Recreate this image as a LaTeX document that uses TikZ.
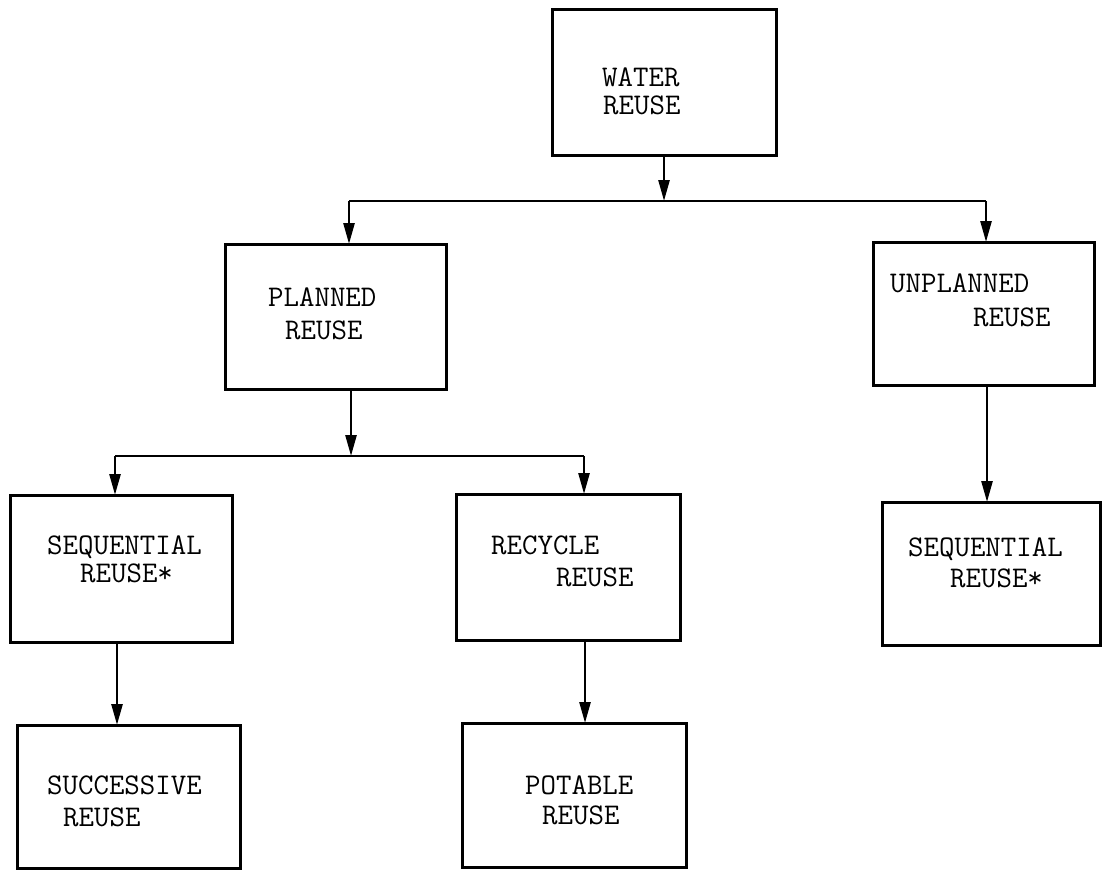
\documentclass[tikz,border=0pt]{standalone}
\usepackage{fontspec}
\usetikzlibrary{arrows.meta}
\tikzset{
  box/.style={draw, line width=3pt, inner sep=0pt, outer sep=0pt, fill=none},
  conn/.style={line width=2.6pt},
  arr/.style={line width=2.6pt, -{Triangle[length=21pt,width=11pt]}},
  lbl/.style={anchor=base west, inner sep=0pt, font=\ttfamily\fontsize{30}{32}\selectfont}
}
\begin{document}
\begin{tikzpicture}[x=1pt,y=-1pt]
\useasboundingbox (0,0) rectangle (1105,871);

% boxes
\node[box, minimum width=224pt, minimum height=146pt] (water)     at (664,82)    {};
\node[box, minimum width=221pt, minimum height=145pt] (planned)   at (335.5,316.5) {};
\node[box, minimum width=221pt, minimum height=143pt] (unplanned) at (983.5,313.5) {};
\node[box, minimum width=222pt, minimum height=147pt] (seqL)      at (121,568.5) {};
\node[box, minimum width=224pt, minimum height=146pt] (recycle)   at (568,567)   {};
\node[box, minimum width=218pt, minimum height=143pt] (seqR)      at (991,573.5) {};
\node[box, minimum width=223pt, minimum height=143pt] (succ)      at (128.5,796.5) {};
\node[box, minimum width=224pt, minimum height=144pt] (potable)   at (574,795)   {};

% texts
\node[lbl] (t1a) at (602,86)  {WATER};
\node[lbl] (t1b) at (603,114) {REUSE};
\node[lbl] (t2a) at (268,306) {PLANNED};
\node[lbl] (t2b) at (285,339) {REUSE};
\node[lbl] (t3a) at (890,292) {UNPLANNED};
\node[lbl] (t3b) at (973,326) {REUSE};
\node[lbl] (t4a) at (47,554)  {SEQUENTIAL};
\node[lbl] (t4b) at (80,582)  {REUSE*};
\node[lbl] (t5a) at (491,554) {RECYCLE};
\node[lbl] (t5b) at (556,586) {REUSE};
\node[lbl] (t6a) at (908,556) {SEQUENTIAL};
\node[lbl] (t6b) at (950,587) {REUSE*};
\node[lbl] (t7a) at (47,794)  {SUCCESSIVE};
\node[lbl] (t7b) at (63,826)  {REUSE};
\node[lbl] (t8a) at (525,794) {POTABLE};
\node[lbl] (t8b) at (542,824) {REUSE};

% junction coordinates
\coordinate (j1)  at (664,201);
\coordinate (j1L) at (349,201);
\coordinate (j1R) at (986,201);
\coordinate (j2)  at (351,456);
\coordinate (j2L) at (115,456);
\coordinate (j2R) at (584,456);
\coordinate (c3)  at (987,0);
\coordinate (c4)  at (117,0);
\coordinate (c5)  at (585,0);

% connectors
\draw[arr] (water.south) -- (j1);
\draw[conn] (j1L) -- (j1R);
\draw[arr] (j1L) -- (j1L |- planned.north);
\draw[arr] (j1R) -- (j1R |- unplanned.north);
\draw[arr] (c3 |- unplanned.south) -- (c3 |- seqR.north);

\draw[arr] (j2 |- planned.south) -- (j2);
\draw[conn] (j2L) -- (j2R);
\draw[arr] (j2L) -- (j2L |- seqL.north);
\draw[arr] (j2R) -- (j2R |- recycle.north);

\draw[arr] (c4 |- seqL.south) -- (c4 |- succ.north);
\draw[arr] (c5 |- recycle.south) -- (c5 |- potable.north);
\end{tikzpicture}
\end{document}
